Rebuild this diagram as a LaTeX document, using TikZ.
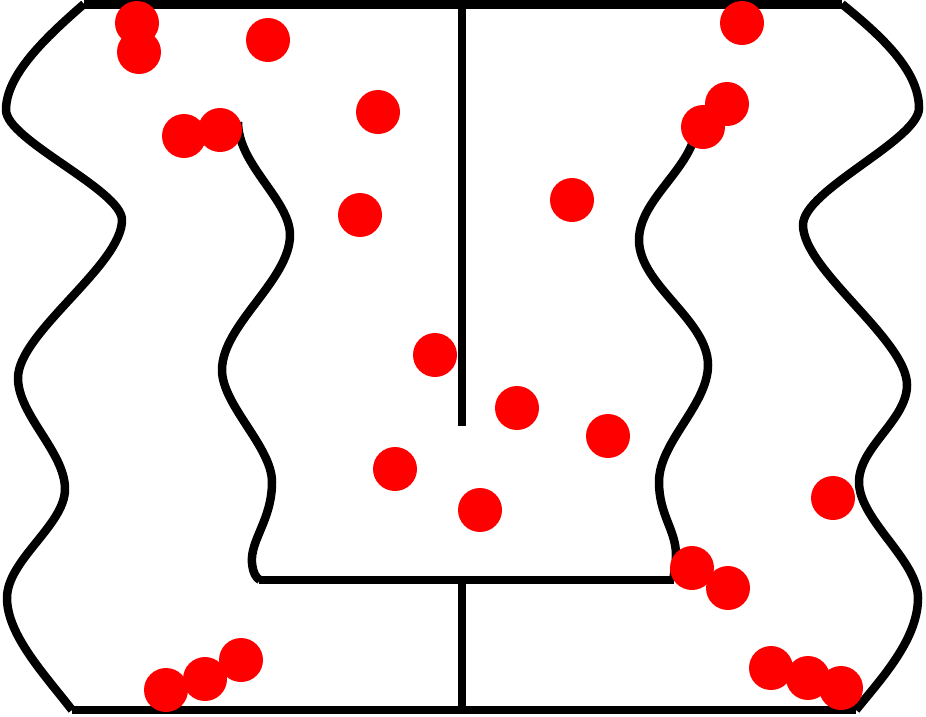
\documentclass[tikz,border=0pt]{standalone}
\begin{document}
\begin{tikzpicture}[x=1pt,y=-1pt,
  wall/.style={line width=8.5pt,black},
  curvewall/.style={line width=8.5pt,black,line join=round},
  dot/.style={fill=red,draw=none}]
\useasboundingbox[fill=white] (0,0) rectangle (926,716);
% straight walls
\draw[wall] (84,4.5) -- (842,4.5);
\draw[wall] (462,4) -- (462,426);
\draw[wall] (462,584) -- (462,712);
\draw[wall] (259,580) -- (674,580);
\draw[wall] (72,710) -- (856,710);
% wavy walls
\draw[curvewall] (84,4) .. controls (45,38) and (6,75) .. (6,110)
  .. controls (6,140) and (122,190) .. (122,220)
  .. controls (122,265) and (18,333) .. (18,378)
  .. controls (18,415) and (65,452) .. (65,489)
  .. controls (65,525) and (7,560) .. (7,598)
  .. controls (7,635) and (45,675) .. (72,710);
\draw[curvewall] (238,122) .. controls (238,165) and (290,200) .. (290,235)
  .. controls (290,280) and (222,325) .. (222,370)
  .. controls (222,405) and (272,447) .. (272,482)
  .. controls (272,520) and (250,540) .. (252,563)
  .. controls (253,573) and (256,578) .. (260,580);
\draw[curvewall] (696,130) .. controls (690,170) and (639,200) .. (639,240)
  .. controls (639,285) and (708,320) .. (708,365)
  .. controls (708,405) and (659,442) .. (659,482)
  .. controls (659,515) and (676,530) .. (676,555)
  .. controls (676,565) and (674,575) .. (673,580);
\draw[curvewall] (842,4) .. controls (880,35) and (919,70) .. (919,108)
  .. controls (919,140) and (803,190) .. (803,225)
  .. controls (803,270) and (907,340) .. (907,385)
  .. controls (907,420) and (859,447) .. (859,482)
  .. controls (859,520) and (918,560) .. (918,598)
  .. controls (918,640) and (880,680) .. (856,710);
% red dots
\foreach \p in {(137,23),(139,52),(268,40),(378,112),(184,136),(220,130),(360,215),(435,355),
  (742,23),(727,104),(703,127),(572,200),(517,408),(608,436),(395,469),(480,510),
  (833,498),(692,568),(728,588),(166,690),(205,679),(241,660),(771,668),(808,678),(841,688)}
  \fill[dot] \p circle[radius=22];
\end{tikzpicture}
\end{document}
